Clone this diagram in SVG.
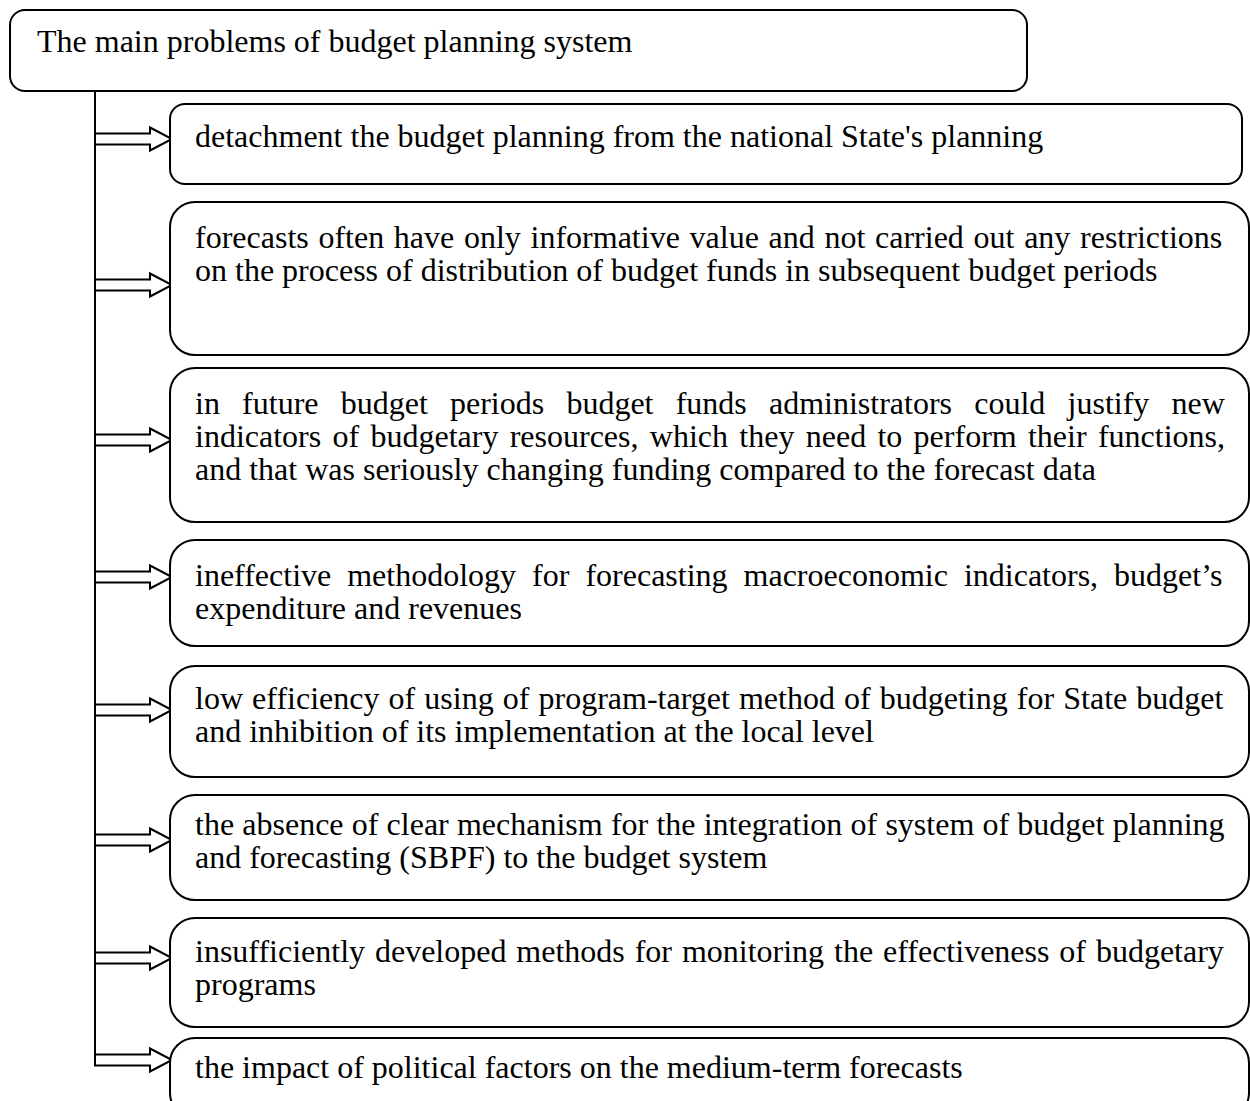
<svg xmlns="http://www.w3.org/2000/svg" width="1250" height="1101" viewBox="0 0 1250 1101">
  <style>
    .box { fill: #ffffff; stroke: #000000; stroke-width: 2; }
    .arrow { fill: #ffffff; stroke: #000000; stroke-width: 2; stroke-linejoin: miter; }
    .spine { fill: none; stroke: #000000; stroke-width: 2; }
    text { font-family: "Liberation Serif", "Times New Roman", serif; font-size: 32px; fill: #000000; }
  </style>
  <defs>
    <!-- hollow double-line arrow, tip at the origin, pointing right -->
    <polygon id="dblArrow" class="arrow" points="-77,-5.5 -22,-5.5 -22,-11.5 0,0 -22,11.5 -22,5.5 -77,5.5"/>
  </defs>
  <rect width="1250" height="1101" fill="#ffffff"/>

  <g id="root">
    <rect class="box" x="10" y="10" width="1017" height="81" rx="15" ry="15"/>
    <text x="37" y="52">The main problems of budget planning system</text>
  </g>

  <g id="connectors">
    <line class="spine" x1="95" y1="91" x2="95" y2="1066"/>
    <use href="#dblArrow" x="172" y="139"/>
    <use href="#dblArrow" x="172" y="285"/>
    <use href="#dblArrow" x="172" y="440"/>
    <use href="#dblArrow" x="172" y="577"/>
    <use href="#dblArrow" x="172" y="710"/>
    <use href="#dblArrow" x="172" y="840"/>
    <use href="#dblArrow" x="172" y="958"/>
    <use href="#dblArrow" x="172" y="1060"/>
  </g>

  <g id="problem1">
    <rect class="box" x="170" y="104" width="1072" height="80" rx="15" ry="15"/>
    <text x="195" y="147">detachment the budget planning from the national State's planning</text>
  </g>

  <g id="problem2">
    <rect class="box" x="170" y="202" width="1079" height="153" rx="25" ry="25"/>
    <text x="195" y="248" word-spacing="1.7">forecasts often have only informative value and not carried out any restrictions</text>
    <text x="195" y="281">on the process of distribution of budget funds in subsequent budget periods</text>
  </g>

  <g id="problem3">
    <rect class="box" x="170" y="368" width="1079" height="154" rx="25" ry="25"/>
    <text x="195" y="414" word-spacing="14.2">in future budget periods budget funds administrators could justify new</text>
    <text x="195" y="447" word-spacing="3.3">indicators of budgetary resources, which they need to perform their functions,</text>
    <text x="195" y="480">and that was seriously changing funding compared to the forecast data</text>
  </g>

  <g id="problem4">
    <rect class="box" x="170" y="540" width="1079" height="106" rx="25" ry="25"/>
    <text x="195" y="586" word-spacing="8">ineffective methodology for forecasting macroeconomic indicators, budget’s</text>
    <text x="195" y="619">expenditure and revenues</text>
  </g>

  <g id="problem5">
    <rect class="box" x="170" y="666" width="1079" height="111" rx="25" ry="25"/>
    <text x="195" y="709" word-spacing="1.1">low efficiency of using of program-target method of budgeting for State budget</text>
    <text x="195" y="742">and inhibition of its implementation at the local level</text>
  </g>

  <g id="problem6">
    <rect class="box" x="170" y="795" width="1079" height="105" rx="25" ry="25"/>
    <text x="195" y="835" word-spacing="0.2">the absence of clear mechanism for the integration of system of budget planning</text>
    <text x="195" y="868">and forecasting (SBPF) to the budget system</text>
  </g>

  <g id="problem7">
    <rect class="box" x="170" y="918" width="1079" height="109" rx="25" ry="25"/>
    <text x="195" y="962" word-spacing="1.9">insufficiently developed methods for monitoring the effectiveness of budgetary</text>
    <text x="195" y="995">programs</text>
  </g>

  <g id="problem8">
    <rect class="box" x="170" y="1038" width="1079" height="80" rx="25" ry="25"/>
    <text x="195" y="1078">the impact of political factors on the medium-term forecasts</text>
  </g>
</svg>
